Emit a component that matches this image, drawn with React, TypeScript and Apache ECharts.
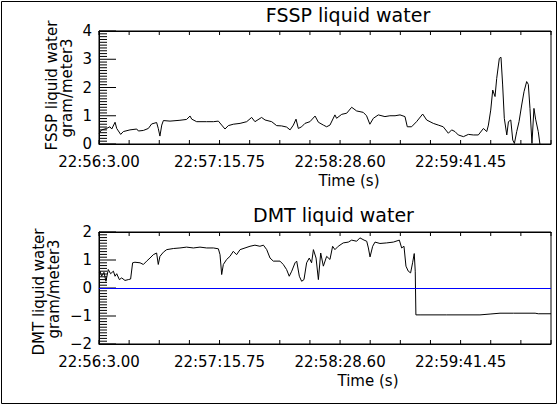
import React, { useEffect, useRef } from 'react';
import * as echarts from 'echarts';

// time axis: seconds after 22:56:03, one minor tick every 18.2 s
const tickStep = 18.2;
const timeMax = 273;
const timeLabels = ['22:56:3.00', '22:57:15.75', '22:58:28.60', '22:59:41.45'];
const timeTicks = Array.from({ length: 16 }, (_, i) => i * tickStep);

// y ticks every 0.1, long ones on whole numbers
const fsspTicks = Array.from({ length: 41 }, (_, i) => i / 10);
const dmtTicks = Array.from({ length: 41 }, (_, i) => -2 + i / 10);

// FSSP liquid water (gram/meter3)
const fsspTime = [
  0.0, 1.6, 4.6, 6.6, 7.7, 9.7, 10.7, 13.1, 14.7, 18.7, 22.8, 23.8, 26.8, 29.8, 31.8,
  34.8, 35.8, 36.8, 37.9, 38.9, 42.9, 48.9, 52.9, 55.0, 56.0, 59.0, 65.0, 69.1, 72.1,
  74.1, 76.1, 78.1, 81.1, 85.2, 89.2, 92.2, 94.2, 98.2, 100.3, 104.3, 107.3, 110.3,
  113.3, 115.4, 117.4, 119.0, 120.4, 122.4, 124.4, 127.4, 130.5, 132.5, 135.5, 137.5,
  139.5, 142.5, 143.5, 146.6, 149.6, 152.6, 155.6, 159.6, 161.6, 163.6, 165.7, 168.7,
  172.7, 175.7, 178.8, 181.8, 184.8, 186.2, 188.8, 191.8, 195.5, 197.9, 201.9, 204.9,
  207.9, 211.0, 213.0, 215.0, 217.0, 220.1, 223.1, 226.1, 229.1, 232.2, 234.2, 235.2,
  236.6, 237.8, 239.2, 240.2, 241.8, 242.8, 243.8, 244.8, 246.3, 247.3, 248.7, 249.9,
  250.9, 252.3, 253.7, 255.3, 256.7, 258.3, 259.3, 260.3, 261.5, 262.7, 263.7, 265.3,
  266.3,
];
const fsspValue = [
  0.38, 0.5, 0.55, 0.61, 0.53, 0.77, 0.55, 0.34, 0.44, 0.5, 0.53, 0.46, 0.48, 0.55, 0.71,
  0.76, 0.55, 0.28, 0.67, 0.83, 0.81, 0.84, 0.87, 0.99, 0.88, 0.79, 0.79, 0.79, 0.81,
  0.67, 0.53, 0.65, 0.7, 0.73, 0.79, 0.94, 0.79, 0.94, 0.85, 0.79, 0.65, 0.64,
  0.6, 0.5, 0.67, 0.88, 0.55, 0.61, 0.73, 0.79, 0.99, 0.77, 0.67, 0.61,
  0.67, 1.03, 0.91, 1.05, 1.09, 1.3, 1.17, 1.12, 1.0, 0.7, 0.91, 1.03,
  0.97, 1.0, 1.0, 1.03, 0.97, 0.61, 0.61, 0.79, 1.06, 0.85, 0.73, 0.67,
  0.61, 0.38, 0.5, 0.44, 0.32, 0.26, 0.34, 0.32, 0.32, 0.55, 0.44, 0.67,
  1.2, 1.91, 1.68, 2.32, 3.03, 3.07, 2.09, 0.91, 0.32, 0.79, 0.85, 0.14,
  0.02, 0.44, 0.79, 1.38, 1.85, 2.21, 2.11, 1.26, 0.02, 1.26, 0.88, 0.44,
  0.0,
];

// DMT liquid water (gram/meter3)
const dmtTime = [
  0.2, 0.6, 1.6, 3.0, 4.2, 5.6, 7.0, 8.7, 9.7, 10.7, 12.3, 13.7, 15.7, 17.7, 19.1, 20.3,
  21.7, 24.8, 26.8, 28.8, 30.8, 32.8, 34.8, 35.8, 36.8, 38.9, 40.9, 44.9, 48.9, 52.9,
  57.0, 61.0, 65.0, 69.1, 72.1, 73.1, 74.1, 75.1, 77.1, 79.1, 81.1, 83.1, 85.2, 88.2,
  91.2, 94.2, 97.2, 99.3, 101.3, 103.3, 105.3, 109.3, 111.3, 113.3, 114.9, 116.4, 118.4,
  119.4, 121.0, 122.4, 123.8, 125.4, 127.0, 128.4, 129.5, 131.1, 132.5, 133.9, 135.5,
  137.5, 139.5, 141.1, 142.5, 144.5, 147.5, 150.6, 152.6, 155.6, 157.6, 160.1, 161.7,
  162.7, 163.7, 165.3, 166.7, 169.7, 173.7, 177.8, 181.4, 182.8, 184.2, 185.4, 186.8,
  188.2, 189.4, 190.4, 191.0, 191.4, 193.9, 210.0, 230.1, 236.2, 242.2, 250.3, 263.4,
  265.3, 273.0,
];
const dmtValue = [
  0.55, 0.6, 0.42, 0.56, 0.24, 0.66, 0.51, 0.6, 0.42, 0.51, 0.3, 0.36, 0.27, 0.3, 0.32, 0.9,
  0.92, 0.9, 0.84, 0.96, 1.07, 1.19, 1.25, 0.84, 1.13, 1.28, 1.37, 1.41, 1.43, 1.46,
  1.43, 1.46, 1.43, 1.43, 1.4, 1.19, 0.48, 0.84, 1.02, 1.13, 1.31, 1.19, 1.37, 1.43,
  1.49, 1.53, 1.49, 1.53, 1.37, 1.07, 0.96, 0.96, 0.84, 0.66, 0.42, 0.6, 0.9,
  0.96, 0.42, 0.24, 0.3, 0.9, 1.07, 0.9, 1.37, 1.07, 0.3, 1.25, 0.78,
  1.13, 1.02, 1.49, 1.37, 1.49, 1.61, 1.64, 1.71, 1.67, 1.79, 1.71, 1.67,
  1.43, 1.11, 1.49, 1.64, 1.59, 1.61, 1.64, 1.71, 1.43, 1.49, 0.78, 0.6,
  0.54, 0.9, 1.23, 0.6, -0.96, -0.96, -0.96, -0.96, -0.93, -0.9, -0.9, -0.9,
  -0.92, -0.92,
];

const FONT = 'DejaVu Sans';
const PLOT_W = 452;
const TOP_H = 113;
const BOTTOM_H = 112;

// inward tick marks as one broken polyline in data units ('-' = gap)
const tickPoints = (yTicks: number[], yMin: number, yMax: number, plotH: number) => {
  const sPerPx = timeMax / PLOT_W;
  const vPerPx = (yMax - yMin) / plotH;
  const gap = ['-', '-'];
  const pts: any[] = [];
  yTicks.forEach((v) => {
    const major = Math.abs(v - Math.round(v)) < 1e-6;
    pts.push([0, v], [(major ? 17 : 8) * sPerPx, v], gap);
  });
  timeTicks.forEach((t) => {
    pts.push([t, yMin], [t, yMin + 4 * vPerPx], gap);
    pts.push([t, yMax], [t, yMax - 4 * vPerPx], gap);
  });
  return pts;
};

const App: React.FC = () => {
  const chartRef = useRef<HTMLDivElement>(null);

  useEffect(() => {
    if (!chartRef.current) return;
    const chart = echarts.init(chartRef.current, null, { renderer: 'svg' });

    const timeFormatter = (value: number) => {
      const k = Math.round(value / tickStep);
      return k % 4 === 0 && timeLabels[k / 4] ? timeLabels[k / 4] : '';
    };

    const timeAxis = (gridIndex: number, top: boolean) => ({
      type: 'value',
      gridIndex,
      position: top ? 'top' : 'bottom',
      min: 0,
      max: timeMax,
      interval: tickStep,
      axisLine: { show: true, onZero: false, lineStyle: { color: '#000', width: 1 } },
      axisTick: { show: false },
      axisLabel: {
        show: !top,
        formatter: timeFormatter,
        color: '#000',
        fontFamily: FONT,
        fontSize: 15,
        margin: 10,
      },
      splitLine: { show: false },
    });

    const valueAxis = (gridIndex: number, min: number, max: number) => ({
      type: 'value',
      gridIndex,
      min,
      max,
      interval: 1,
      axisLine: { show: true, onZero: false, lineStyle: { color: '#000', width: 1 } },
      axisTick: { show: false },
      axisLabel: {
        color: '#000',
        fontFamily: FONT,
        fontSize: 15,
        margin: 7,
        formatter: (v: number) => (v < 0 ? '\u2212' + Math.abs(v) : String(v)),
      },
      splitLine: { show: false },
    });

    const tickSeries = (xAxisIndex: number, yAxisIndex: number, data: any[]) => ({
      type: 'line',
      xAxisIndex,
      yAxisIndex,
      data,
      silent: true,
      clip: false,
      connectNulls: false,
      showSymbol: false,
      symbol: 'none',
      lineStyle: { color: '#000', width: 1 },
    });

    const text = (x: number, y: number, s: string, size: number, rotate = false) => ({
      type: 'text',
      x,
      y,
      rotation: rotate ? Math.PI / 2 : 0,
      silent: true,
      style: {
        text: s,
        fill: '#000',
        fontFamily: FONT,
        fontSize: size,
        align: 'center',
        verticalAlign: 'middle',
      },
    });

    chart.setOption({
      animation: false,
      backgroundColor: '#fff',
      grid: [
        {
          left: 99, top: 31, width: PLOT_W, height: TOP_H,
          show: true, backgroundColor: 'transparent', borderColor: '#000', borderWidth: 1,
        },
        {
          left: 99, top: 232, width: PLOT_W, height: BOTTOM_H,
          show: true, backgroundColor: 'transparent', borderColor: '#000', borderWidth: 1,
        },
      ],
      xAxis: [timeAxis(0, false), timeAxis(0, true), timeAxis(1, false), timeAxis(1, true)],
      yAxis: [valueAxis(0, 0, 4), valueAxis(1, -2, 2)],
      series: [
        {
          type: 'line',
          xAxisIndex: 0,
          yAxisIndex: 0,
          data: fsspTime.map((t, i) => [t, fsspValue[i]]),
          showSymbol: false,
          symbol: 'none',
          lineStyle: { color: '#000', width: 1 },
        },
        {
          type: 'line',
          xAxisIndex: 2,
          yAxisIndex: 1,
          data: dmtTime.map((t, i) => [t, dmtValue[i]]),
          showSymbol: false,
          symbol: 'none',
          lineStyle: { color: '#000', width: 1 },
          markLine: {
            silent: true,
            symbol: ['none', 'none'],
            label: { show: false },
            lineStyle: { color: '#0000ff', type: 'solid', width: 1.2 },
            data: [{ yAxis: 0 }],
          },
        },
        tickSeries(0, 0, tickPoints(fsspTicks, 0, 4, TOP_H)),
        tickSeries(2, 1, tickPoints(dmtTicks, -2, 2, BOTTOM_H)),
      ],
      graphic: [
        {
          type: 'rect',
          silent: true,
          shape: { x: 1.5, y: 1.5, width: 555, height: 402 },
          style: { fill: 'none', stroke: '#000', lineWidth: 1 },
        },
        text(348, 15, 'FSSP liquid water', 19),
        text(349, 181, 'Time (s)', 15),
        text(51.8, 85.5, 'FSSP liquid water', 15, true),
        text(66.8, 88, 'gram/meter3', 15, true),
        text(333.5, 214.5, 'DMT liquid water', 19),
        text(368, 381, 'Time (s)', 15),
        text(38.8, 292, 'DMT liquid water', 15, true),
        text(53.8, 289, 'gram/meter3', 15, true),
      ],
    });

    return () => {
      chart.dispose();
    };
  }, []);

  return (
    <div
      ref={chartRef}
      style={{ position: 'absolute', left: 0, top: 0, width: 560, height: 406, background: '#fff' }}
    />
  );
};

export default App;
